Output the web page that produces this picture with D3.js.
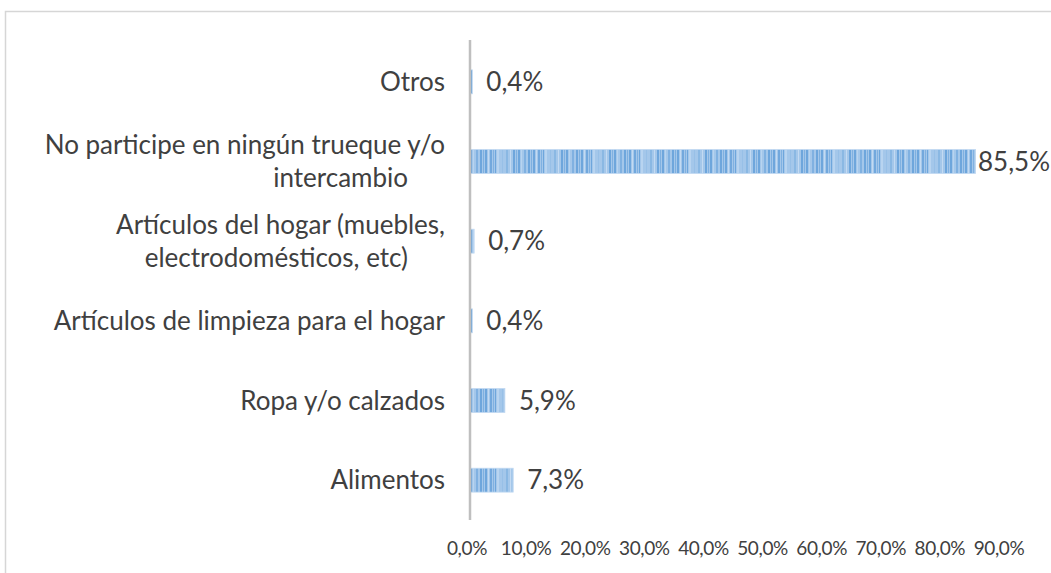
<!DOCTYPE html>
<meta charset="utf-8">
<script src="https://d3js.org/d3.v7.min.js"></script>
<style>
  body { margin: 0; background: #fff; }
  text { font-family: Lato, "Open Sans", sans-serif; fill: #404040; }
</style>
<div id="chart"></div>
<script>

// categories (top to bottom) and values in %
var categories = [
  ["Otros"],
  ["No participe en ningún trueque y/o", "intercambio"],
  ["Artículos del hogar (muebles,", "electrodomésticos, etc)"],
  ["Artículos de limpieza para el hogar"],
  ["Ropa y/o calzados"],
  ["Alimentos"]
];
var values = [0.4, 85.5, 0.7, 0.4, 5.9, 7.3];
var xTicks = [0, 10, 20, 30, 40, 50, 60, 70, 80, 90];

var W = 1051, H = 573;
var fs = 26;      // label font size
var lineGap = 33; // spacing of wrapped label lines

var svg = d3.select("#chart").append("svg")
    .attr("width", W)
    .attr("height", H);

// frame of the chart area (only top and left edges are visible)
svg.append("path")
    .attr("d", "M5.5,600 V11.5 H1100")
    .attr("fill", "none")
    .attr("stroke", "#d6d6d6")
    .attr("stroke-width", 1.5);

// striped fill for the bars
var defs = svg.append("defs");
var pat = defs.append("pattern")
    .attr("id", "stripes")
    .attr("patternUnits", "userSpaceOnUse")
    .attr("width", 48).attr("height", 10);
pat.append("rect").attr("width", 48).attr("height", 10).attr("fill", "#a4c7ea");
var stripes = [[0,2,"#6ea6dc"],[3,1,"#7eb0e0"],[5,2,"#6ea6dc"],[8,1,"#c3daf2"],[10,2,"#72a8dd"],
               [13,1,"#80b1e1"],[15,1,"#6ea6dc"],[17,2,"#b8d4f0"],[22,1,"#98c0e7"],
               [26,2,"#8ab8e3"],[30,1,"#c3daf2"],[33,2,"#6ea6dc"],[36,1,"#80b1e1"],
               [38,2,"#6ea6dc"],[41,1,"#b8d4f0"],[44,2,"#80b1e1"]];
stripes.forEach(function(s) {
  pat.append("rect").attr("x", s[0]).attr("width", s[1]).attr("height", 10).attr("fill", s[2]);
});

var x = d3.scaleLinear()
    .domain([0, 90])
    .range([470, 1002]);

var y = d3.scaleBand()
    .domain(d3.range(categories.length))
    .range([42, 520])
    .paddingInner(0.7)
    .paddingOuter(0.35);

// bars
svg.append("g")
  .selectAll("rect")
  .data(values)
  .enter()
  .append("rect")
    .attr("x", x(0))
    .attr("y", function(d, i) { return y(i); })
    .attr("width", function(d) { return Math.max(0, x(d) - x(0)); })
    .attr("height", y.bandwidth())
    .attr("fill", "url(#stripes)")
    .attr("stroke", "#c0d8f1")
    .attr("stroke-width", 0.8);

// vertical axis line
svg.append("line")
    .attr("x1", x(0)).attr("x2", x(0))
    .attr("y1", 40).attr("y2", 520)
    .attr("stroke", "#bfbfbf")
    .attr("stroke-width", 2.5);

// value labels (kept inside the picture on the right)
svg.append("g")
  .selectAll("text")
  .data(values)
  .enter()
  .append("text")
    .attr("y", function(d, i) { return y(i) + y.bandwidth() / 2; })
    .attr("dy", "0.35em")
    .style("font-size", fs + "px")
    .text(function(d) { return d.toFixed(1).replace(".", ",") + "%"; })
    .attr("x", function(d) {
      var w = this.getComputedTextLength();
      return Math.min(x(d) + 14, W - w - 1);
    });

// category labels
var cat = svg.append("g")
  .selectAll("text")
  .data(categories)
  .enter()
  .append("text")
    .attr("y", function(d, i) { return y(i) + y.bandwidth() / 2; })
    .style("font-size", fs + "px")
    .attr("text-anchor", "end");

cat.each(function(lines, i) {
  var t = d3.select(this);
  var n = lines.length;
  lines.forEach(function(line, k) {
    t.append("tspan")
      .attr("x", k === 0 ? 445 : 408)
      .attr("dy", k === 0 ? (0.35 * fs - (n - 1) * lineGap / 2) : lineGap)
      .text(line);
  });
});

// x tick labels
svg.append("g")
  .selectAll("text")
  .data(xTicks)
  .enter()
  .append("text")
    .attr("x", function(d) { return x(d) - 3; })
    .attr("y", 548)
    .attr("dy", "0.35em")
    .attr("text-anchor", "middle")
    .style("font-size", "19px")
    .style("letter-spacing", "-0.4px")
    .text(function(d) { return d.toFixed(1).replace(".", ",") + "%"; });

</script>
